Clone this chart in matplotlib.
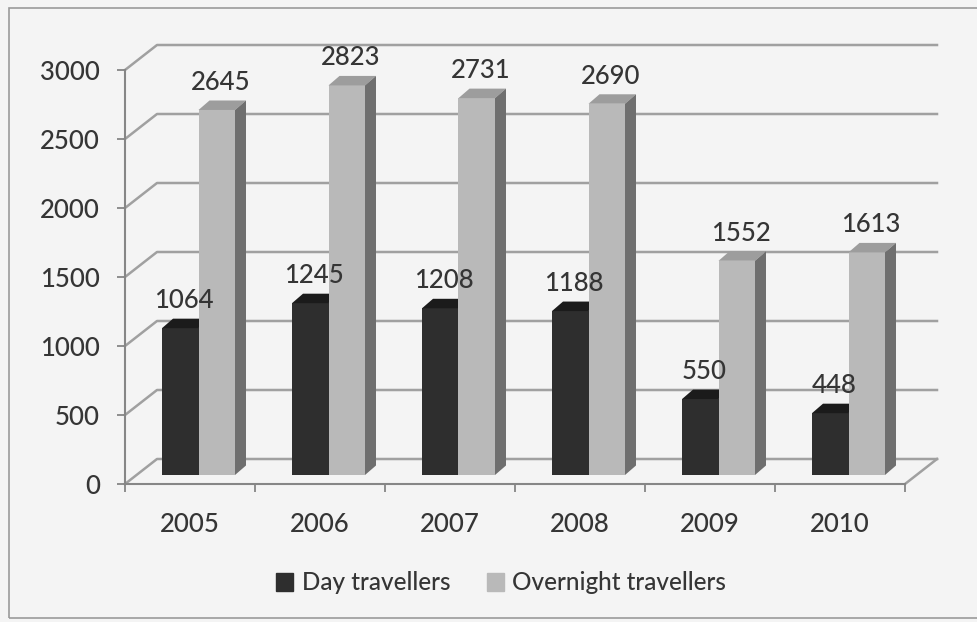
import matplotlib.pyplot as plt
from matplotlib.patches import Polygon, Rectangle

# values
years = ['2005', '2006', '2007', '2008', '2009', '2010']
day_travellers = [1064, 1245, 1208, 1188, 550, 448]
overnight_travellers = [2645, 2823, 2731, 2690, 1552, 1613]
y_ticks = [0, 500, 1000, 1500, 2000, 2500, 3000]

W, H = 977, 622
TEXT_C = '#353535'
GRID_C = '#a0a0a0'
AXIS_C = '#868686'
FS = 18.5

plt.rcParams['font.family'] = ['Lato', 'DejaVu Sans']
plt.rcParams['font.weight'] = 'medium'

fig = plt.figure(figsize=(W / 100, H / 100), dpi=100, facecolor='#f4f4f4')
# plot area in pixels: x 125..905, y 484..70
ax = fig.add_axes([125 / W, (H - 484) / H, 780 / W, 414 / H])
ax.patch.set_visible(False)
ax.set_xlim(0, len(years))
ax.set_ylim(0, 3000)


def px_x(p):
    return p * len(years) / 780


def px_y(p):
    return p * 3000 / 414


# fake 3d depth
wall_dx, wall_dy = px_x(32), px_y(25)
bar_dx, bar_dy = px_x(11), px_y(9.5)
base = px_y(9)
bar_w = px_x(36.5)
day_off = px_x(37)
night_off = day_off + bar_w

# back wall, side wall and floor lines
for v in y_ticks:
    ax.plot([0, wall_dx, len(years) + wall_dx], [v, v + wall_dy, v + wall_dy],
            color=GRID_C, lw=1.8, clip_on=False, zorder=1)
ax.plot([len(years), len(years) + wall_dx], [0, wall_dy], color=GRID_C, lw=1.8,
        clip_on=False, zorder=1)


def draw_bar(x0, value, front, top, side=None):
    ax.bar(x0, value, width=bar_w, bottom=base, align='edge', color=front,
           linewidth=0, zorder=3, clip_on=False)
    y1 = base + value
    ax.add_patch(Polygon([(x0, y1), (x0 + bar_w, y1), (x0 + bar_w + bar_dx, y1 + bar_dy),
                          (x0 + bar_dx, y1 + bar_dy)], closed=True, color=top, lw=0,
                         zorder=3, clip_on=False))
    if side:
        xr = x0 + bar_w
        ax.add_patch(Polygon([(xr, base), (xr, y1), (xr + bar_dx, y1 + bar_dy),
                              (xr + bar_dx, base + bar_dy)], closed=True, color=side, lw=0,
                             zorder=3, clip_on=False))
    ax.annotate(str(value), (x0 + bar_w / 2 + bar_dx / 3, y1 + bar_dy), xytext=(0, 4),
                textcoords='offset points', ha='center', va='bottom', fontsize=FS,
                color=TEXT_C, zorder=5, annotation_clip=False)


for i in range(len(years)):
    draw_bar(i + day_off, day_travellers[i], '#2e2e2e', '#1b1b1b')
    draw_bar(i + night_off, overnight_travellers[i], '#b9b9b9', '#9d9d9d', '#6f6f6f')

# axes
for s in ['top', 'right']:
    ax.spines[s].set_visible(False)
for s in ['left', 'bottom']:
    ax.spines[s].set_color(AXIS_C)
    ax.spines[s].set_linewidth(1.5)

ax.set_yticks(y_ticks)
ax.tick_params(axis='y', direction='out', length=6, width=1.3, color=AXIS_C, pad=12,
               labelsize=FS, labelcolor=TEXT_C)
ax.set_xticks(range(len(years) + 1))
ax.set_xticklabels([])
ax.set_xticks([i + 0.5 for i in range(len(years))], minor=True)
ax.set_xticklabels(years, minor=True)
ax.tick_params(axis='x', which='major', direction='out', length=6, width=1.3, color=AXIS_C)
ax.tick_params(axis='x', which='minor', length=0, pad=20, labelsize=FS, labelcolor=TEXT_C)

# legend
handles = [Rectangle((0, 0), 1, 1, color='#2e2e2e'), Rectangle((0, 0), 1, 1, color='#b9b9b9')]
leg = fig.legend(handles, ['Day travellers', 'Overnight travellers'], loc='center',
                 bbox_to_anchor=(501 / W, 1 - 583 / H), ncol=2, frameon=False,
                 handlelength=0.7, handleheight=0.7, handletextpad=0.35,
                 columnspacing=1.5, fontsize=17.5)
for t in leg.get_texts():
    t.set_color(TEXT_C)

# chart border
fig.patches.append(Rectangle((9 / W, 1 - 618 / H), 1, (618 - 8) / H, transform=fig.transFigure,
                             fill=False, edgecolor='#9a9a9a', lw=1.2))

fig.savefig('out.png', dpi=100, facecolor=fig.get_facecolor())
